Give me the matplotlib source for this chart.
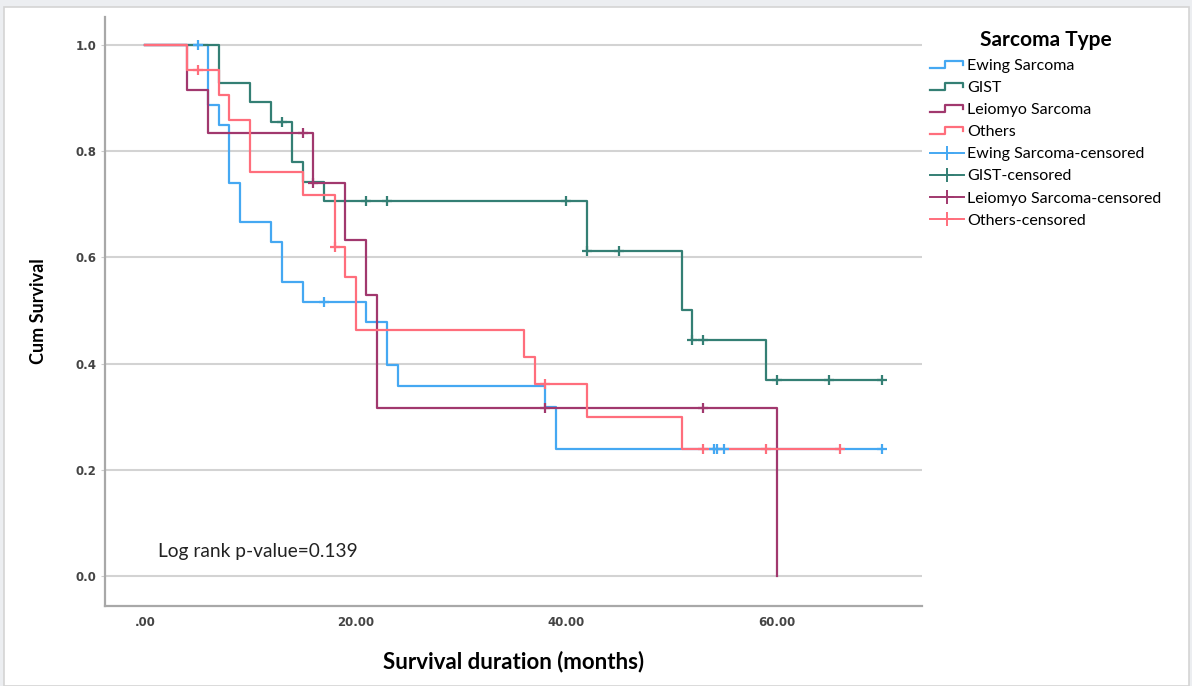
import numpy as np
import matplotlib
matplotlib.use("Agg")
import matplotlib.pyplot as plt
from matplotlib.lines import Line2D
from matplotlib.legend_handler import HandlerBase
from matplotlib.patches import Rectangle

plt.rcParams['font.family'] = ['Lato', 'DejaVu Sans']

# Kaplan-Meier steps (months, cum survival)
ewing_t = [0, 6, 7, 8, 9, 12, 13, 15, 21, 23, 24, 38, 39]
ewing_s = [1.0, 0.887, 0.849, 0.740, 0.667, 0.630, 0.554, 0.517, 0.478, 0.397, 0.358, 0.318, 0.239]
ewing_cens = [5, 17, 54, 54.3, 55, 70]
ewing_end = 70

gist_t = [0, 7, 10, 12, 14, 15, 17, 42, 51, 52, 59]
gist_s = [1.0, 0.928, 0.893, 0.856, 0.780, 0.743, 0.707, 0.613, 0.501, 0.444, 0.370]
gist_cens = [13, 21, 23, 40, 42, 45, 52, 53, 60, 65, 70]
gist_end = 70

leio_t = [0, 4, 6, 16, 19, 21, 22, 60]
leio_s = [1.0, 0.915, 0.834, 0.740, 0.633, 0.529, 0.316, 0.0]
leio_cens = [15, 16, 38, 53]
leio_end = 60

oth_t = [0, 4, 7, 8, 10, 15, 18, 19, 20, 36, 37, 42, 51]
oth_s = [1.0, 0.953, 0.906, 0.859, 0.761, 0.717, 0.620, 0.564, 0.463, 0.412, 0.361, 0.300, 0.239]
oth_cens = [5, 18, 38, 53, 59, 66]
oth_end = 66

names = ['Ewing Sarcoma', 'GIST', 'Leiomyo Sarcoma', 'Others']
colors = ['#45a8f2', '#347f74', '#a1386e', '#ff6e7c']
groups = [(ewing_t, ewing_s, ewing_cens, ewing_end),
          (gist_t, gist_s, gist_cens, gist_end),
          (leio_t, leio_s, leio_cens, leio_end),
          (oth_t, oth_s, oth_cens, oth_end)]


class StepHandler(HandlerBase):
    # little step glyph like the SPSS legend
    def create_artists(self, legend, orig_handle, xdescent, ydescent,
                       width, height, fontsize, trans):
        w, h = width, height
        x = np.array([0, 0.45, 0.45, 0.97, 0.97]) * w - xdescent
        y = np.array([0.15, 0.15, 0.8, 0.8, 0.45]) * h - ydescent
        ln = Line2D(x, y, color=orig_handle.get_color(), lw=1.6, transform=trans)
        return [ln]


fig = plt.figure(figsize=(11.92, 6.86), dpi=100, facecolor='#eceef1')
fig.patches.append(Rectangle((4/1192, 0), 1185/1192, 679/686, transform=fig.transFigure,
                             facecolor='white', edgecolor='#d4d4d4', lw=1.2, zorder=-10))
ax = fig.add_axes([105/1192, 1 - 606/686, 817/1192, 589/686])
ax.set_facecolor('none')

for (t, s, cens, end), c in zip(groups, colors):
    tt = list(t)
    ss = list(s)
    if tt[-1] < end:
        tt.append(end)
        ss.append(ss[-1])
    ax.step(tt, ss, where='post', color=c, lw=1.6, zorder=3)
    idx = np.searchsorted(t, cens, side='right') - 1
    ax.plot(cens, np.array(s)[idx], linestyle='none', marker='+', ms=7.5, mew=1.6,
            color=c, zorder=4)

ax.set_xlim(-3.8, 73.8)
ax.set_ylim(-0.0565, 1.053)
ax.set_xticks([0, 20, 40, 60])
ax.set_xticklabels(['.00', '20.00', '40.00', '60.00'])
ax.set_yticks([0.0, 0.2, 0.4, 0.6, 0.8, 1.0])
ax.set_yticklabels(['0.0', '0.2', '0.4', '0.6', '0.8', '1.0'])
ax.tick_params(axis='x', length=0, pad=7, labelsize=8.5, labelcolor='#444444')
ax.tick_params(axis='y', length=3, color='#cccccc', pad=3, labelsize=8.5, labelcolor='#444444')
for lab in ax.get_xticklabels() + ax.get_yticklabels():
    lab.set_family('DejaVu Sans')
    lab.set_fontweight('bold')
ax.grid(axis='y', color='#d3d3d3', lw=1.5, zorder=0)
for sp in ['top', 'right']:
    ax.spines[sp].set_visible(False)
for sp in ['left', 'bottom']:
    ax.spines[sp].set_color('#a8a8a8')
    ax.spines[sp].set_linewidth(1.6)

ax.set_xlabel('Survival duration (months)', fontsize=16, fontweight='bold', labelpad=16)
ax.set_ylabel('Cum Survival', fontsize=13, fontweight='bold', labelpad=21)

ax.text(1.2, 0.047, 'Log rank p-value=0.139', fontsize=13.8, color='#222222', va='center')

handles = [Line2D([0], [0], color=c) for c in colors]
handles += [Line2D([0], [0], color=c, lw=1.4, marker='+', ms=10, mew=1.4) for c in colors]
labels = names + [n + '-censored' for n in names]
hmap = {h: StepHandler() for h in handles[:4]}
leg = fig.legend(handles, labels, handler_map=hmap, loc='upper left',
                 bbox_to_anchor=(916/1192, 1 - 16/686), frameon=False,
                 title='Sarcoma Type', title_fontproperties={'weight': 'bold', 'size': 15},
                 fontsize=11.5, handlelength=2.1, handletextpad=0.2, labelspacing=0.5)

fig.savefig('out.png', dpi=100, facecolor=fig.get_facecolor())
